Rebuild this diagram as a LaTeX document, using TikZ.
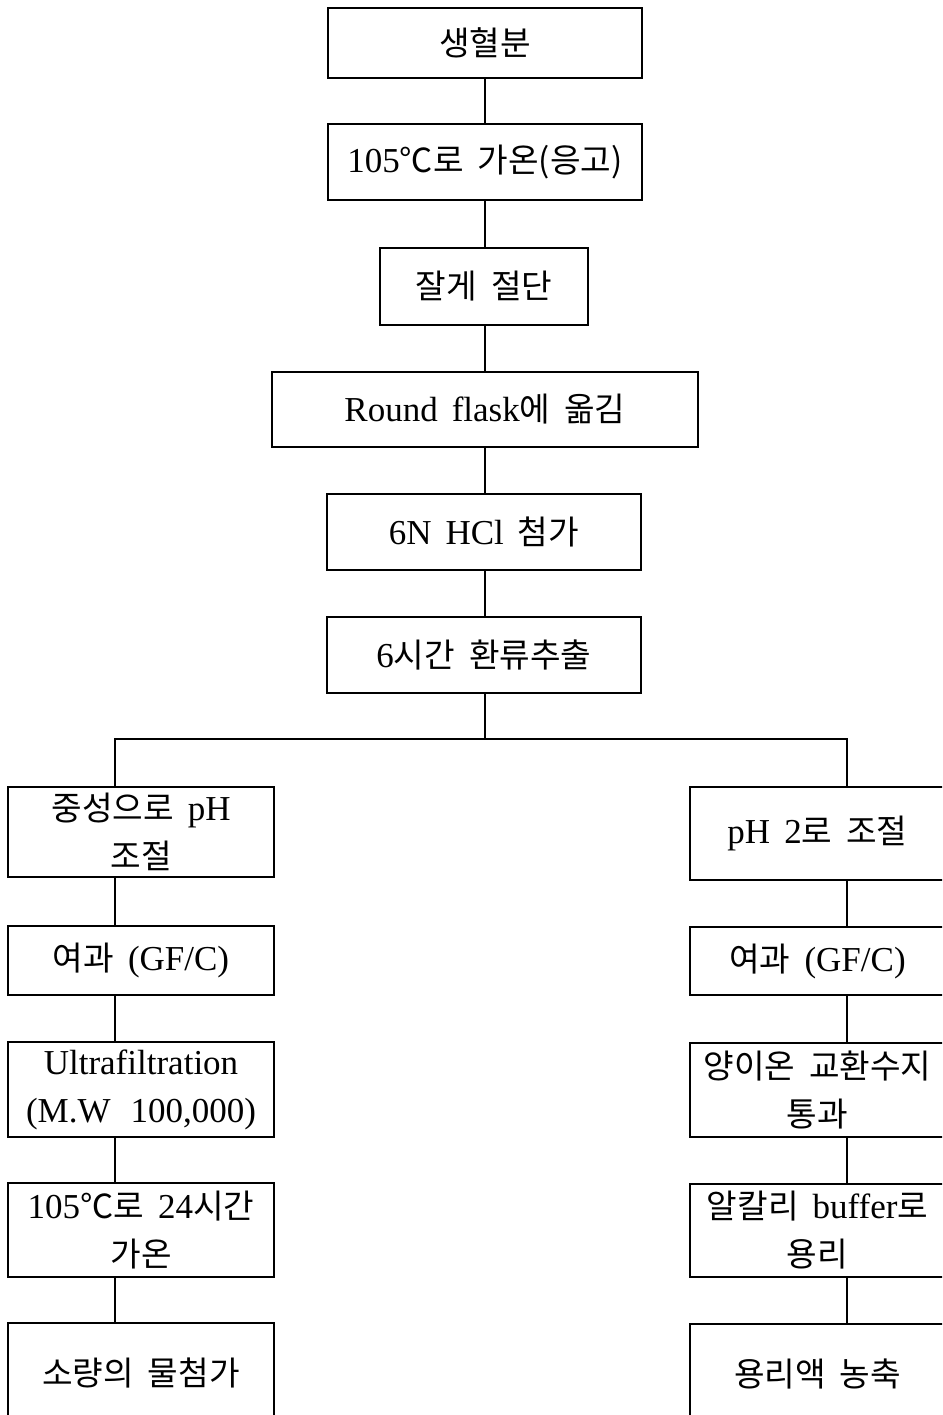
\documentclass[tikz,border=0pt]{standalone}
\usepackage{fontspec}
\setmainfont{Liberation Serif}
\newfontfamily\kr[Scale=0.95]{Noto Sans CJK KR}
\newcommand{\K}[1]{{\kr #1}}
\newcommand{\boxfont}{\fontsize{35}{48}\selectfont\spaceskip=14pt\relax}
\begin{document}
\begin{tikzpicture}[x=1pt,y=-1pt,
  box/.style={draw, line width=1.3pt, inner sep=0pt, align=center,
    font=\boxfont},
  link/.style={line width=1.3pt}]
\useasboundingbox (0,0) rectangle (942,1415);
\clip (0,0) rectangle (942,1415);
% main column
\node[box, minimum width=314, minimum height=70] (b1) at (485,43) {\K{생혈분}};
\node[box, minimum width=314, minimum height=76] (b2) at (485,162) {105\K{℃로 가온(응고)}};
\node[box, minimum width=208, minimum height=77] (b3) at (484,286.5) {\K{잘게 절단}};
\node[box, minimum width=426, minimum height=75] (b4) at (485,409.5) {Round flask\K{에 옮김}};
\node[box, minimum width=314, minimum height=76] (b5) at (484,532) {6N HCl \K{첨가}};
\node[box, minimum width=314, minimum height=76] (b6) at (484,655) {6\K{시간 환류추출}};
% left column
\node[box, minimum width=266, minimum height=90] (l1) at (141,832) {\K{중성으로} pH\\\K{조절}};
\node[box, minimum width=266, minimum height=69] (l2) at (141,960.5) {\K{여과} (GF/C)};
\node[box, minimum width=266, minimum height=95] (l3) at (141,1089.5) {Ultrafiltration\\(M.W\hspace{20pt}100,000)};
\node[box, minimum width=266, minimum height=94] (l4) at (141,1230) {105\K{℃로} 24\K{시간}\\\K{가온}};
\node[box, minimum width=266, minimum height=100] (l5) at (141,1373) {\K{소량의 물첨가}};
% right column
\node[box, minimum width=255, minimum height=93] (r1) at (817.5,833.5) {pH 2\K{로 조절}};
\node[box, minimum width=255, minimum height=68] (r2) at (817.5,961) {\K{여과} (GF/C)};
\node[box, minimum width=255, minimum height=94] (r3) at (817.5,1090) {\K{양이온 교환수지}\\\K{통과}};
\node[box, minimum width=255, minimum height=93] (r4) at (817.5,1230.5) {\K{알칼리} buffer\K{로}\\\K{용리}};
\node[box, minimum width=255, minimum height=100] (r5) at (817.5,1374) {\K{용리액 농축}};
% spines
\coordinate (sl) at (115,739);
\coordinate (sr) at (847,739);
\coordinate (sm) at (485,739);
\draw[link] (b1.south -| sm) -- (b2.north -| sm);
\draw[link] (b2.south -| sm) -- (b3.north -| sm);
\draw[link] (b3.south -| sm) -- (b4.north -| sm);
\draw[link] (b4.south -| sm) -- (b5.north -| sm);
\draw[link] (b5.south -| sm) -- (b6.north -| sm);
\draw[link] (b6.south -| sm) -- (sm);
\draw[link] (l1.north -| sl) -- (sl) -- (sr) -- (r1.north -| sr);
\draw[link] (l1.south -| sl) -- (l2.north -| sl);
\draw[link] (l2.south -| sl) -- (l3.north -| sl);
\draw[link] (l3.south -| sl) -- (l4.north -| sl);
\draw[link] (l4.south -| sl) -- (l5.north -| sl);
\draw[link] (r1.south -| sr) -- (r2.north -| sr);
\draw[link] (r2.south -| sr) -- (r3.north -| sr);
\draw[link] (r3.south -| sr) -- (r4.north -| sr);
\draw[link] (r4.south -| sr) -- (r5.north -| sr);
\end{tikzpicture}
\end{document}
